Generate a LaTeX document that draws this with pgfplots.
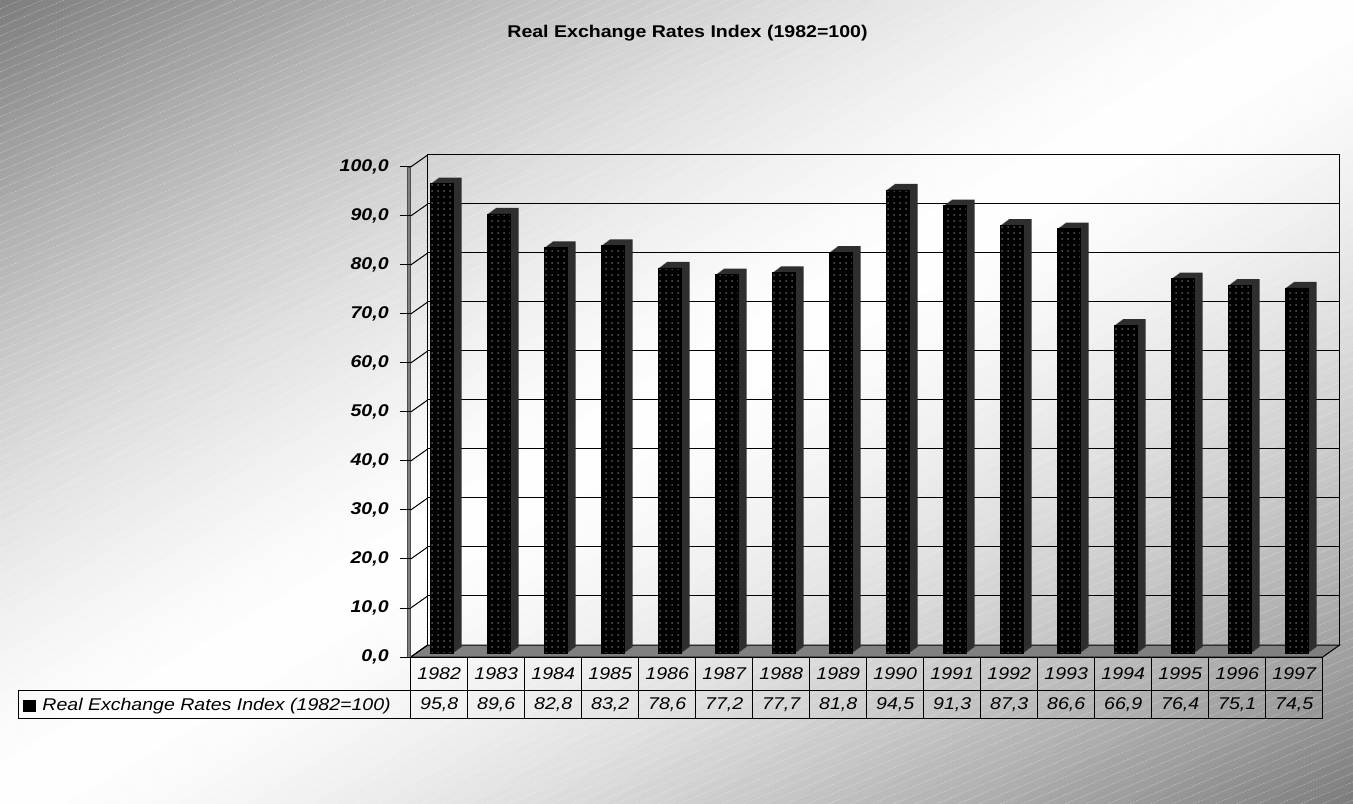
\documentclass[border=0pt]{standalone}
\usepackage{fontspec}
\setmainfont{Liberation Sans}[FakeStretch=1.15]
\usepackage{pgfplots}
\pgfplotsset{compat=1.18}
\usepackage{pgfplotstable}
\usetikzlibrary{patterns}
\newcommand\f{\fontsize{8.5pt}{10pt}\selectfont}
\colorlet{cgray}{black!51}

\pgfplotstableread{
x year val
0 1982 95.8
1 1983 89.6
2 1984 82.8
3 1985 83.2
4 1986 78.6
5 1987 77.2
6 1988 77.7
7 1989 81.8
8 1990 94.5
9 1991 91.3
10 1992 87.3
11 1993 86.6
12 1994 66.9
13 1995 76.4
14 1996 75.1
15 1997 74.5
}\datatable

\begin{document}
\begin{tikzpicture}
\path[use as bounding box] (0pt,0pt) rectangle (676.5pt,401.5pt);
\begin{scope}
\clip (0pt,0pt) rectangle (676.5pt,401.5pt);
\foreach \i in {0,...,119}{
  \pgfmathsetmacro\ta{\i/120}
  \pgfmathsetmacro\tb{(\i+1.3)/120}
  \pgfmathtruncatemacro\p{100*(1-abs(2*(\i+0.5)/120-1)^1.5)}
  \pgfmathsetmacro\xa{676.5*\ta-676.5}
  \pgfmathsetmacro\ya{-401.5*\ta}
  \pgfmathsetmacro\xb{676.5*\ta+676.5}
  \pgfmathsetmacro\yb{803-401.5*\ta}
  \pgfmathsetmacro\xc{676.5*\tb+676.5}
  \pgfmathsetmacro\yc{803-401.5*\tb}
  \pgfmathsetmacro\xd{676.5*\tb-676.5}
  \pgfmathsetmacro\yd{-401.5*\tb}
  \fill[white!\p!cgray] (\xa pt,\ya pt) -- (\xb pt,\yb pt) -- (\xc pt,\yc pt) -- (\xd pt,\yd pt) -- cycle;
}
\foreach \i in {0,...,160}{
  \draw[white, opacity=0.3, line width=0.35pt, dash pattern=on 1pt off 0.6pt] (0pt,401.5pt-\i*4.5pt) -- ++(676.5pt,284pt);
}
\end{scope}

% back wall, floor, side wall
\begin{axis}[at={(213.85pt,79pt)}, anchor=south west, scale only axis,
  width=456pt, height=245pt, xmin=-0.5, xmax=15.5, ymin=0, ymax=100,
  xtick=\empty, ytick={0,10,...,100}, yticklabels={}, major tick length=0pt,
  ymajorgrids, major grid style={black, line width=0.5pt},
  axis line style={black, line width=0.5pt}, clip=false]
\fill[gray, draw=black, line width=0.5pt] (axis cs:-0.5,0) -- (axis cs:15.5,0) -- ([xshift=-8.5pt,yshift=-6pt]axis cs:15.5,0) -- ([xshift=-8.5pt,yshift=-6pt]axis cs:-0.5,0) -- cycle;
\pgfplotsinvokeforeach{0,10,...,100}{
  \draw[black, line width=0.5pt] (axis cs:-0.5,#1) -- ++(-8.5pt,-6pt);
}
\draw[fill=gray, draw=black!70, line width=0.3pt] ([xshift=-10.2pt,yshift=-6pt]axis cs:-0.5,0) rectangle ([xshift=-8.5pt,yshift=-6pt]axis cs:-0.5,100);
\end{axis}

% front: bars and table
\begin{axis}[at={(205.35pt,73pt)}, anchor=south west, scale only axis,
  width=456pt, height=245pt, xmin=-0.5, xmax=15.5, ymin=0, ymax=100,
  axis line style={draw=none}, xtick=\empty,
  ytick={0,10,...,100}, ytick pos=left, tick align=outside,
  major tick length=5.5pt, tick style={black, line width=0.5pt},
  yticklabel style={font=\f\bfseries\itshape, xshift=-2pt},
  /pgf/number format/.cd, fixed, fixed zerofill, precision=1, use comma, assume math mode=true,
  /pgfplots/.cd, clip=false]
\pgfplotsinvokeforeach{8,7,6,5,4,3,2,1}{
\addplot[ybar, bar width=11.5pt, bar shift=1.5pt+#1*0.5pt, yshift=2pt+#1*0.375pt, fill=black!82, draw=none] table[x=x, y=val]{\datatable};
}
\addplot[ybar, bar width=11.5pt, bar shift=1.5pt, yshift=2pt, fill=black, draw=black, line width=0.3pt, postaction={pattern=dots, pattern color=black!65}] table[x=x, y=val]{\datatable};
\addplot[draw=none, mark=none, nodes near coords, point meta=explicit symbolic,
  every node near coord/.append style={anchor=center, yshift=-8.5pt, font=\f\itshape, text=black}]
  table[x=x, y expr=0, meta=year]{\datatable};
\addplot[draw=none, mark=none, nodes near coords, point meta=explicit,
  every node near coord/.append style={anchor=center, yshift=-24pt, font=\f\itshape, text=black}]
  table[x=x, y expr=0, meta=val]{\datatable};
\end{axis}

% data table grid
\begin{scope}[line width=0.5pt, black]
\draw (205.35pt,73pt) -- (661.35pt,73pt);
\draw (9pt,56.5pt) -- (661.35pt,56.5pt);
\draw (9pt,42.5pt) -- (661.35pt,42.5pt);
\draw (9pt,42.5pt) -- (9pt,56.5pt);
\foreach \k in {0,...,16}{
  \draw (205.35pt+\k*28.5pt,73pt) -- (205.35pt+\k*28.5pt,42.5pt);
}
\end{scope}
\fill[black] (11.5pt,45.5pt) rectangle (18pt,51.5pt);
\node[anchor=west, inner sep=0pt, font=\f\itshape] at (21pt,48.5pt) {Real Exchange Rates Index (1982=100)};
\node[font=\f\bfseries] at (343.75pt,385pt) {Real Exchange Rates Index (1982=100)};
\end{tikzpicture}
\end{document}
